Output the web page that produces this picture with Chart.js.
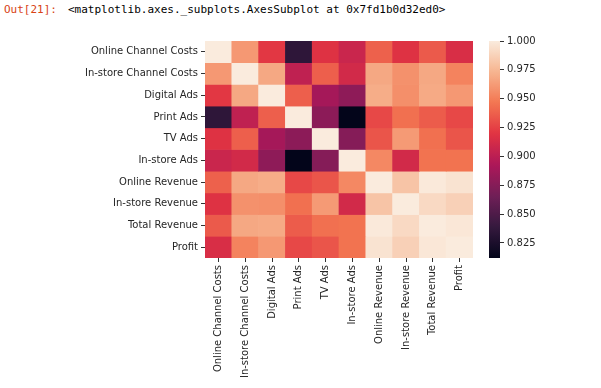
<!DOCTYPE html>
<html>
<head>
<meta charset="utf-8">
<script src="https://cdn.jsdelivr.net/npm/chart.js@4/dist/chart.umd.min.js"></script>
<style>
  body { margin: 0; background: #fff; width: 601px; height: 388px; position: relative; overflow: hidden; }
  .out { position: absolute; top: 3px; font: 11px "DejaVu Sans Mono", monospace; white-space: pre; }
  #prompt { left: 4px; color: #D84315; }
  #repr { left: 68px; color: #000; }
  #heat { position: absolute; left: 0; top: 0; width: 601px; height: 388px; }
  #cbar { position: absolute; left: 480px; top: 0; width: 121px; height: 388px; }
</style>
</head>
<body>
<div id="prompt" class="out">Out[21]:</div>
<div id="repr" class="out">&lt;matplotlib.axes._subplots.AxesSubplot at 0x7fd1b0d32ed0&gt;</div>
<canvas id="heat" width="601" height="388"></canvas>
<canvas id="cbar" width="121" height="388"></canvas>
<script>
// correlation matrix, one row per variable
var labels = ['Online Channel Costs', 'In-store Channel Costs', 'Digital Ads', 'Print Ads', 'TV Ads',
              'In-store Ads', 'Online Revenue', 'In-store Revenue', 'Total Revenue', 'Profit'];

var onlineChannelCosts  = [1.000, 0.961, 0.921, 0.835, 0.918, 0.907, 0.938, 0.918, 0.935, 0.915];
var instoreChannelCosts = [0.961, 1.000, 0.968, 0.902, 0.937, 0.911, 0.968, 0.958, 0.968, 0.952];
var digitalAds          = [0.921, 0.968, 1.000, 0.937, 0.889, 0.879, 0.970, 0.957, 0.969, 0.961];
var printAds            = [0.835, 0.902, 0.937, 1.000, 0.878, 0.812, 0.928, 0.944, 0.936, 0.928];
var tvAds               = [0.918, 0.937, 0.889, 0.878, 1.000, 0.875, 0.933, 0.962, 0.944, 0.933];
var instoreAds          = [0.907, 0.911, 0.879, 0.812, 0.875, 1.000, 0.954, 0.911, 0.945, 0.945];
var onlineRevenue       = [0.938, 0.968, 0.970, 0.928, 0.933, 0.954, 1.000, 0.981, 0.999, 0.996];
var instoreRevenue      = [0.918, 0.958, 0.957, 0.944, 0.962, 0.911, 0.981, 1.000, 0.991, 0.987];
var totalRevenue        = [0.935, 0.968, 0.969, 0.936, 0.944, 0.945, 0.999, 0.991, 1.000, 0.998];
var profit              = [0.915, 0.952, 0.961, 0.928, 0.933, 0.945, 0.996, 0.987, 0.998, 1.000];

var cbarTicks = [0.825, 0.850, 0.875, 0.900, 0.925, 0.950, 0.975, 1.000];

var corr = [onlineChannelCosts, instoreChannelCosts, digitalAds, printAds, tvAds,
            instoreAds, onlineRevenue, instoreRevenue, totalRevenue, profit];

var vmin = Math.min.apply(null, corr.map(r => Math.min.apply(null, r)));
var vmax = Math.max.apply(null, corr.map(r => Math.max.apply(null, r)));

// seaborn "rocket" colormap, rough stops
var rocketStops = [
  [0, [3, 5, 26]], [1/7, [53, 25, 62]], [2/7, [112, 31, 87]], [3/7, [173, 23, 89]],
  [4/7, [225, 51, 66]], [5/7, [243, 118, 81]], [6/7, [246, 180, 143]], [1, [250, 235, 221]]
];
function rocket(t) {
  t = Math.max(0, Math.min(1, t));
  for (var i = 1; i < rocketStops.length; i++) {
    if (t <= rocketStops[i][0]) {
      var a = rocketStops[i - 1], b = rocketStops[i];
      var f = (t - a[0]) / (b[0] - a[0]);
      var c = a[1].map((v, k) => Math.round(v + (b[1][k] - v) * f));
      return 'rgb(' + c.join(',') + ')';
    }
  }
  return 'rgb(250,235,221)';
}

var font = { family: 'DejaVu Sans', size: 10 };
var textColor = '#262626';

new Chart('heat', {
  type: 'bar',
  data: {
    labels: labels,
    datasets: corr.map((row, r) => ({
      label: labels[r],
      data: row.map(() => [r, r + 1]),
      backgroundColor: row.map(v => rocket((v - vmin) / (vmax - vmin))),
      borderWidth: 0,
      barPercentage: 1,
      categoryPercentage: 1,
      grouped: false
    }))
  },
  options: {
    responsive: false,
    animation: false,
    layout: { padding: { top: 41, right: 128, left: 0, bottom: 0 } },
    plugins: { legend: { display: false }, tooltip: { enabled: false } },
    scales: {
      x: {
        grid: { drawOnChartArea: false, tickLength: 4, offset: false, color: '#333' },
        border: { display: false },
        ticks: { minRotation: 90, maxRotation: 90, autoSkip: false, padding: 3, color: textColor, font: font },
        afterFit: s => { s.height = 130; }
      },
      y: {
        type: 'linear', min: 0, max: labels.length, reverse: true,
        afterBuildTicks: s => { s.ticks = labels.map((_, i) => ({ value: i + 0.5 })); },
        grid: { drawOnChartArea: false, tickLength: 4, color: '#333' },
        border: { display: false },
        ticks: { autoSkip: false, padding: 3, color: textColor, font: font, callback: (v, i) => labels[i] },
        afterFit: s => { s.width = 205; }
      }
    }
  }
});

new Chart('cbar', {
  type: 'bar',
  data: {
    labels: [''],
    datasets: [{
      data: [[vmin, vmax]],
      backgroundColor: ctx => {
        var area = ctx.chart.chartArea;
        if (!area) return null;
        var g = ctx.chart.ctx.createLinearGradient(0, area.bottom, 0, area.top);
        for (var i = 0; i <= 50; i++) g.addColorStop(i / 50, rocket(i / 50));
        return g;
      },
      borderWidth: 0,
      barPercentage: 1,
      categoryPercentage: 1
    }]
  },
  options: {
    responsive: false,
    animation: false,
    layout: { padding: { top: 41, left: 9, bottom: 130, right: 0 } },
    plugins: { legend: { display: false }, tooltip: { enabled: false } },
    scales: {
      x: { display: false },
      y: {
        position: 'right', min: vmin, max: vmax,
        afterBuildTicks: s => { s.ticks = cbarTicks.map(v => ({ value: v })); },
        grid: { drawOnChartArea: false, tickLength: 4, color: '#333' },
        border: { display: false },
        ticks: { padding: 3, color: textColor, font: font, callback: v => v.toFixed(3) },
        afterFit: s => { s.width = 101; }
      }
    }
  }
});
</script>
</body>
</html>
